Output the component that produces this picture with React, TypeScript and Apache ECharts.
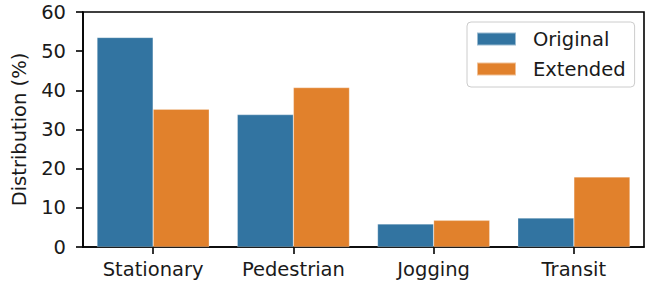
import React, { useEffect, useRef } from "react";
import * as echarts from "echarts";

const categories = ["Stationary", "Pedestrian", "Jogging", "Transit"];
const originalValues = [53.5, 33.8, 5.9, 7.4];
const extendedValues = [35.2, 40.7, 6.8, 17.9];
const yTicks = { min: 0, max: 60, interval: 10 };

const FONT = "DejaVu Sans";

export default function App() {
  const ref = useRef<HTMLDivElement>(null);
  useEffect(() => {
    if (!ref.current) return;
    document.body.style.margin = "0";
    const chart = echarts.init(ref.current, undefined, { renderer: "svg" });
    chart.setOption({
      animation: false,
      textStyle: { fontFamily: FONT },
      grid: {
        left: 83,
        right: 1,
        top: 12,
        bottom: 37,
        show: true,
        borderColor: "#000",
        borderWidth: 1.6,
        backgroundColor: "transparent",
      },
      legend: {
        orient: "vertical",
        left: 467,
        top: 22,
        itemWidth: 39,
        itemHeight: 13,
        itemGap: 10,
        padding: [7, 9, 8, 9],
        borderColor: "#cccccc",
        borderWidth: 1,
        borderRadius: 4,
        backgroundColor: "#fff",
        icon: "rect",
        textStyle: {
          fontFamily: FONT,
          fontSize: 19.5,
          color: "#1a1a1a",
          padding: [0, 0, 0, 12],
          lineHeight: 20,
        },
        data: ["Original", "Extended"],
      },
      xAxis: {
        type: "category",
        data: categories,
        axisLine: { show: true, lineStyle: { color: "#000", width: 1.6 } },
        axisTick: { show: true, alignWithLabel: true, length: 7, lineStyle: { color: "#000", width: 1.6 } },
        axisLabel: { fontFamily: FONT, fontSize: 19.5, color: "#1a1a1a", margin: 12 },
      },
      yAxis: {
        type: "value",
        min: yTicks.min,
        max: yTicks.max,
        interval: yTicks.interval,
        name: "Distribution (%)",
        nameLocation: "middle",
        nameGap: 54,
        nameTextStyle: { fontFamily: FONT, fontSize: 19.5, color: "#1a1a1a" },
        splitLine: { show: false },
        axisLine: { show: true, lineStyle: { color: "#000", width: 1.6 } },
        axisTick: { show: true, length: 7, lineStyle: { color: "#000", width: 1.6 } },
        axisLabel: { fontFamily: FONT, fontSize: 19.5, color: "#1a1a1a", margin: 17 },
      },
      series: [
        {
          name: "Original",
          type: "bar",
          data: originalValues,
          barGap: "0%",
          barCategoryGap: "20%",
          itemStyle: { color: "#3274a1", borderColor: "rgba(255,255,255,0.5)", borderWidth: 0.5 },
        },
        {
          name: "Extended",
          type: "bar",
          data: extendedValues,
          barGap: "0%",
          barCategoryGap: "20%",
          itemStyle: { color: "#e1812c", borderColor: "rgba(255,255,255,0.5)", borderWidth: 0.5 },
        },
      ],
    });
    return () => chart.dispose();
  }, []);
  return <div ref={ref} style={{ width: 645, height: 284, position: "absolute", left: 0, top: 0 }} />;
}
